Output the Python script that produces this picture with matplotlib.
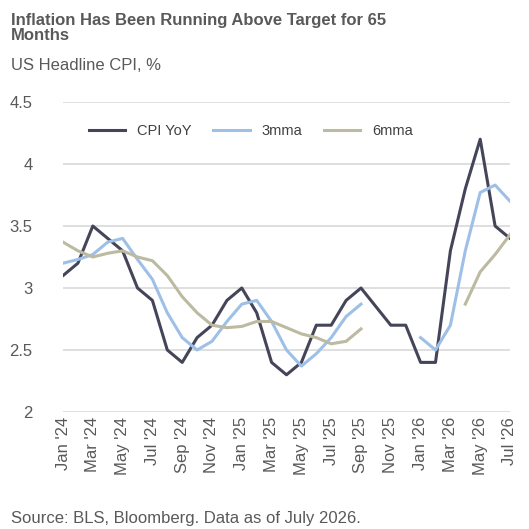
import matplotlib
matplotlib.use("Agg")
import matplotlib.pyplot as plt
import numpy as np
plt.rcParams['font.family'] = ['Liberation Sans', 'DejaVu Sans']

months = ["Jan '24","Feb '24","Mar '24","Apr '24","May '24","Jun '24","Jul '24","Aug '24","Sep '24","Oct '24","Nov '24","Dec '24",
          "Jan '25","Feb '25","Mar '25","Apr '25","May '25","Jun '25","Jul '25","Aug '25","Sep '25","Oct '25","Nov '25","Dec '25",
          "Jan '26","Feb '26","Mar '26","Apr '26","May '26","Jun '26","Jul '26"]
nan = np.nan
cpi = [3.1,3.2,3.5,3.4,3.3,3.0,2.9,2.5,2.4,2.6,2.7,2.9,3.0,2.8,2.4,2.3,2.4,2.7,2.7,2.9,3.0,2.85,2.7,2.7,2.4,2.4,3.3,3.8,4.2,3.5,3.4]
mma3 = [3.2,3.23,3.27,3.37,3.4,3.23,3.07,2.8,2.6,2.5,2.57,2.73,2.87,2.9,2.73,2.5,2.37,2.47,2.6,2.77,2.87,nan,nan,nan,2.6,2.5,2.7,3.3,3.77,3.83,3.7]
mma6 = [3.37,3.3,3.25,3.28,3.3,3.25,3.22,3.1,2.93,2.8,2.7,2.68,2.69,2.73,2.73,2.68,2.63,2.6,2.55,2.57,2.67,nan,nan,nan,nan,nan,nan,2.87,3.13,3.27,3.43]

fig = plt.figure(figsize=(5.29,5.29), dpi=100)
ax = fig.add_axes([63/529, 1-412/529, 447/529, 310/529])
x = np.arange(len(months))
ax.plot(x, cpi, color="#45455a", lw=2.2, label="CPI YoY")
ax.plot(x, mma3, color="#9ec0e6", lw=2.2, label="3mma")
ax.plot(x, mma6, color="#bcbaa0", lw=2.2, label="6mma")
ax.set_ylim(2,4.5)
ax.set_yticks([2,2.5,3,3.5,4,4.5])
ax.set_yticklabels(["2","2.5","3","3.5","4","4.5"])
ax.set_xlim(0,30)
ax.set_xticks(x[::2])
ax.set_xticklabels(months[::2], rotation=90)
ax.grid(axis="y", color="#d9d9d9", lw=1.2)
ax.set_axisbelow(True)
for s in ax.spines.values():
    s.set_visible(False)
ax.tick_params(length=0, labelsize=12, colors="#595959")
ax.tick_params(axis="y", pad=22)
ax.legend(loc="upper center", bbox_to_anchor=(0.42,0.97), ncol=3, frameon=False, fontsize=10.5,
          labelcolor="#404040", handlelength=2.5, columnspacing=1.5)
fig.text(0.02, 0.975, "Inflation Has Been Running Above Target for 65\nMonths", fontsize=12,
         fontweight="bold", color="#595959", va="top", linespacing=1.0)
fig.text(0.02, 0.89, "US Headline CPI, %", fontsize=12, color="#595959", va="top")
fig.text(0.02, 0.012, "Source: BLS, Bloomberg. Data as of July 2026.", fontsize=12, color="#595959")
fig.savefig("out.png", dpi=100)
